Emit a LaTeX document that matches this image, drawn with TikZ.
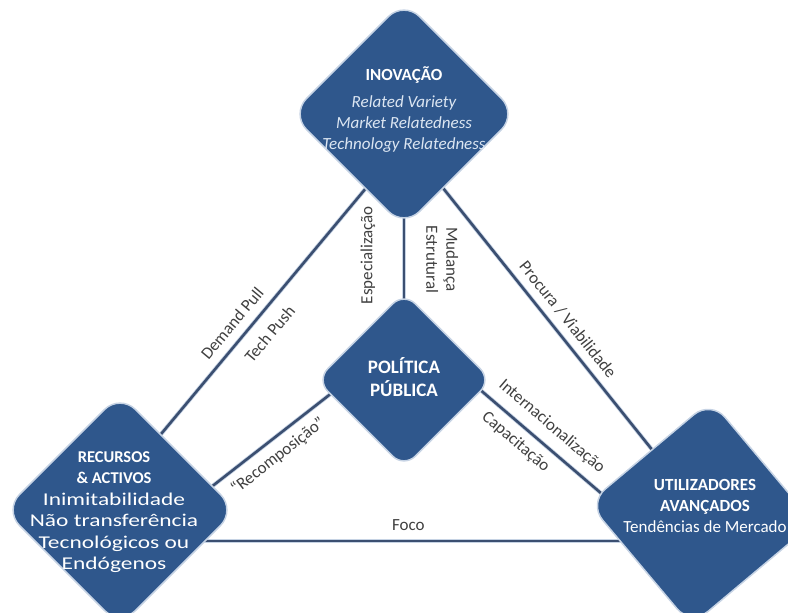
\documentclass[tikz,border=0pt]{standalone}
\usepackage{fontspec}
\setmainfont{Carlito}
\usepackage{xcolor}
\usepackage{graphicx}
\usepackage{tikz}
\usetikzlibrary{shapes.geometric,calc,backgrounds}

\definecolor{blockblue}{RGB}{47,87,140}
\definecolor{blockrim}{RGB}{198,211,228}
\definecolor{linkblue}{RGB}{59,79,113}
\definecolor{tagGrey}{RGB}{64,64,64}
\definecolor{italicblue}{RGB}{220,230,242}
\newcommand{\wide}[1]{\scalebox{1.3}[1]{#1}}

\begin{document}
\begin{tikzpicture}[x=1pt,y=-1pt,
    block/.style={diamond, aspect=1, fill=blockblue, draw=blockrim, line width=1.5pt, inner sep=0pt, outer sep=0pt, rounded corners=22pt},
    blocktext/.style={text=white, align=center, font=\fontsize{17}{21}\selectfont},
    link/.style={draw=linkblue, line width=2.6pt, shorten <=-12pt, shorten >=-12pt, preaction={draw=blockrim, line width=4.2pt}},
    tag/.style={text=tagGrey, inner sep=0pt, font=\fontsize{17}{20}\selectfont}]
  \useasboundingbox (0,0) rectangle (788,613);

  % the four blocks
  \node[block, minimum size=226pt] (inov) at (404,114) {};
  \node[block, minimum size=175pt, rounded corners=16pt] (pol) at (404,380) {};
  \node[block, minimum size=232pt] (rec) at (120,510) {};
  \node[block, minimum size=226pt, rotate=-5] (util) at (701,513) {};

  \node[blocktext] (inovtext) at ($(inov.center)+(0,-4)$) {\textbf{INOVAÇÃO}\\[6pt]{\color{italicblue}\itshape Related Variety}\\{\color{italicblue}\itshape Market Relatedness}\\{\color{italicblue}\itshape Technology Relatedness}};
  \node[blocktext, font=\fontsize{19}{23}\selectfont\bfseries] (poltext) at ($(pol.center)+(0,-3)$) {POLÍTICA\\PÚBLICA};
  \node[blocktext, font=\fontsize{18}{21.5}\selectfont] (rectext) at ($(rec.center)+(-6,2)$) {{\fontsize{16.5}{20}\selectfont\bfseries RECURSOS}\\{\fontsize{16.5}{20}\selectfont\bfseries \& ACTIVOS}\\\wide{Inimitabilidade}\\\wide{Não transferência}\\\wide{Tecnológicos ou}\\\wide{Endógenos}};
  \node[blocktext] (utiltext) at ($(util.center)+(4,-7)$) {\textbf{UTILIZADORES}\\\textbf{AVANÇADOS}\\Tendências de Mercado};

  % connectors behind the blocks
  \begin{scope}[on background layer]
    \draw[link] ($(rec.north)!0.35!(rec.east)$) -- node[tag, sloped, pos=0.41, above=9pt] (pull) {Demand Pull} node[tag, sloped, pos=0.46, below=12pt] (push) {Tech Push} ($(inov.west)!0.66!(inov.south)$);
    \draw[link] ($(inov.south)!0.345!(inov.east)$) -- node[tag, sloped, pos=0.54, above=8pt] (procura) {Procura / Viabilidade} ($(util.west)!0.52!(util.north)$);
    \draw[link] (inov.south) -- node[tag, sloped, pos=0.5, above=21pt, align=center] (mudanca) {Mudança\\Estrutural} (pol.north);
    \draw[link] ($(rec.north)!0.795!(rec.east)$) -- node[tag, sloped, pos=0.47, below=8pt] (recomp) {“Recomposição”} ($(pol.west)!0.16!(pol.south)$);
    \draw[link] ($(pol.east)!0.12!(pol.south)$) -- node[tag, sloped, pos=0.49, above=10pt] (intl) {Internacionalização} node[tag, sloped, pos=0.38, below=8pt] (capac) {Capacitação} ($(util.west)!0.1!(util.north)$);
    \draw[link] ($(rec.east)!0.267!(rec.south)$) coordinate (focoleft) -- node[tag, pos=0.41, above=9pt] (foco) {Foco} (focoleft -| util.center);
  \end{scope}
  \node[tag, rotate=90] (espec) at ($(inov.south)!0.43!(pol.north)+(-36,0)$) {Especialização};
\end{tikzpicture}
\end{document}
